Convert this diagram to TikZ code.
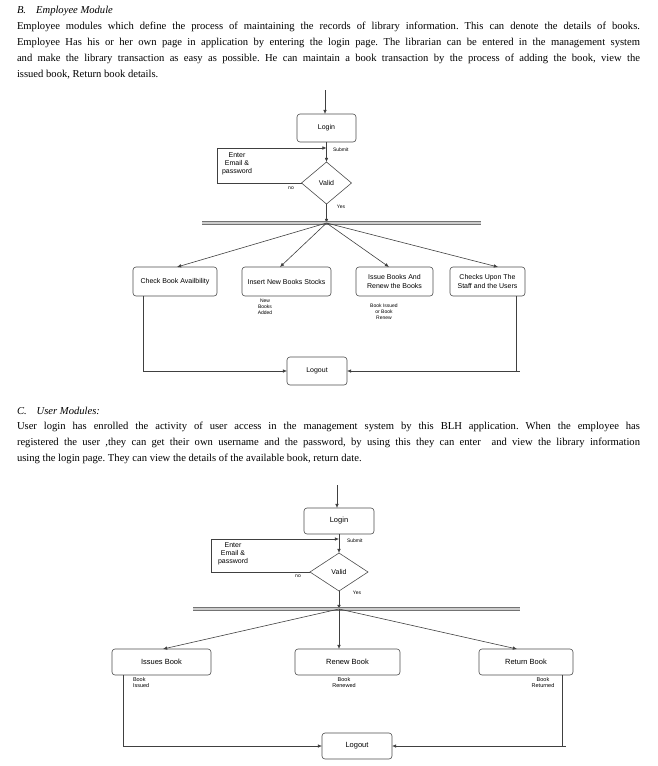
\documentclass[tikz,border=0pt]{standalone}
\usepackage{fontspec}
\setmainfont{Liberation Serif}
\newfontfamily\diafont{Liberation Sans}
\usetikzlibrary{shapes.geometric,arrows.meta}
\frenchspacing
\begin{document}
\begin{tikzpicture}[x=1pt,y=-1pt,
  every node/.style={inner sep=0pt,outer sep=0pt},
  para/.style={anchor=west,font=\fontsize{10.6}{12}\selectfont},
  head/.style={anchor=west,font=\fontsize{10.6}{12}\selectfont\itshape},
  box/.style={draw=black!70,line width=0.6pt,rounded corners=3pt,align=center,font=\diafont\fontsize{7}{8.2}\selectfont},
  boxb/.style={box,font=\diafont\fontsize{7.5}{8.6}\selectfont},
  dia/.style={diamond,draw=black!70,line width=0.6pt,font=\diafont\fontsize{7}{8}\selectfont},
  small/.style={font=\diafont\fontsize{5}{6}\selectfont,align=center},
  lbl/.style={font=\diafont\fontsize{5.5}{6.5}\selectfont,align=center},
  enter/.style={font=\diafont\fontsize{7}{8.2}\selectfont,align=center},
  ln/.style={draw=black!75,line width=0.6pt},
  arr/.style={ln,-{Latex[length=4.2pt,width=3.6pt]}},
  bar/.style={draw=black!55,line width=0.9pt,double=gray!40,double distance=1.4pt}]
\useasboundingbox (0,0) rectangle (657,766);
% ---------- text B ----------
\node[head] (hB) at (17,11) {B.\hspace{10pt}Employee Module};
\node[para] (pB1) at (17,27) {\makebox[623pt][s]{Employee modules which define the process of maintaining the records of library information. This can denote the details of books.}};
\node[para] (pB2) at (17,43) {\makebox[623pt][s]{Employee Has his or her own page in application by entering the login page. The librarian can be entered in the management system}};
\node[para] (pB3) at (17,59) {\makebox[623pt][s]{and make the library transaction as easy as possible. He can maintain a book transaction by the process of adding the book, view the}};
\node[para] (pB4) at (17,75) {issued book, Return book details.};
% ---------- diagram 1 ----------
\coordinate (t1) at (325,90);
\node[box,minimum width=59pt,minimum height=28pt] (login1) at (326.5,128) {Login};
\node[dia,minimum width=50pt,minimum height=42pt] (valid1) at (326.5,183) {Valid};
\coordinate (s1) at (326.5,148);
\coordinate (b1) at (326.5,223);
\draw[arr] (t1) -- (t1 |- login1.north);
\draw[arr] (login1.south) -- (valid1.north);
\draw[arr] (valid1.west) -- ++(-84,0) |- (s1);
\draw[arr] (valid1.south) -- (b1);
\node[enter] (en1) at (237,164) {Enter\\Email \&\\password};
\node[small,anchor=west] (sub1) at (333,150) {Submit};
\node[small] (no1) at (291,188) {no};
\node[small] (yes1) at (341,207) {Yes};
\coordinate (bl1) at (202,223);
\coordinate (br1) at (481,223);
\draw[bar] (bl1) -- (br1);
\node[box,minimum width=84pt,minimum height=29pt] (chk) at (175,281.5) {Check Book Availbility};
\node[box,minimum width=89pt,minimum height=29pt] (ins) at (286.5,281.5) {Insert New Books Stocks};
\node[box,minimum width=77pt,minimum height=29pt] (iss) at (394.5,281.5) {Issue Books And\\Renew the Books};
\node[box,minimum width=75pt,minimum height=29pt] (stf) at (487.5,281.5) {Checks Upon The\\Staff and the Users};
\draw[arr] (b1) -- ([xshift=2pt]chk.north);
\draw[arr] (b1) -- ([xshift=-6.5pt]ins.north);
\draw[arr] (b1) -- ([xshift=-5.5pt]iss.north);
\draw[arr] (b1) -- ([xshift=10.5pt]stf.north);
\node[small] (nba) at (265,307) {New\\Books\\Added};
\node[small] (bir) at (384,312) {Book Issued\\or Book\\Renew};
\node[box,minimum width=60pt,minimum height=28pt] (lo1) at (317,371) {Logout};
\draw[arr] ([xshift=10pt]chk.south west) |- (lo1.west);
\draw[arr] ([xshift=-9pt]stf.south east) |- (lo1.east);
\coordinate (ov1) at (520,371);
\draw[ln] (lo1.east -| stf.south east) ++(-9,0) -- (ov1);
% ---------- text C ----------
\node[head] (hC) at (17,411) {C.\hspace{10pt}User Modules:};
\node[para] (pC1) at (17,427) {\makebox[623pt][s]{User login has enrolled the activity of user access in the management system by this BLH application. When the employee has}};
\node[para] (pC2) at (17,443) {\makebox[623pt][s]{registered the user ,they can get their own username and the password, by using this they can enter\ \ and view the library information}};
\node[para] (pC3) at (17,459) {using the login page. They can view the details of the available book, return date.};
% ---------- diagram 2 ----------
\coordinate (t2) at (337,485);
\node[boxb,minimum width=70pt,minimum height=26pt] (login2) at (339,521) {Login};
\node[dia,minimum width=58pt,minimum height=38pt] (valid2) at (339,572) {Valid};
\coordinate (s2) at (339,539);
\coordinate (b2) at (339,609);
\draw[arr] (t2) -- (t2 |- login2.north);
\draw[arr] (login2.south) -- (valid2.north);
\draw[arr] (valid2.west) -- ++(-99,0) |- (s2);
\draw[arr] (valid2.south) -- (b2);
\node[enter] (en2) at (233,554) {Enter\\Email \&\\password};
\node[small,anchor=west] (sub2) at (347,541) {Submit};
\node[small] (no2) at (298,576) {no};
\node[small] (yes2) at (357,593) {Yes};
\coordinate (bl2) at (193,609);
\coordinate (br2) at (520,609);
\draw[bar] (bl2) -- (br2);
\node[boxb,minimum width=99pt,minimum height=26pt] (isb) at (161.5,662) {Issues Book};
\node[boxb,minimum width=105pt,minimum height=26pt] (rnb) at (347.5,662) {Renew Book};
\node[boxb,minimum width=94pt,minimum height=26pt] (rtb) at (526,662) {Return Book};
\draw[arr] (b2) -- ([xshift=1.5pt]isb.north);
\draw[arr] (b2) -- ([xshift=-8.5pt]rnb.north);
\draw[arr] (b2) -- ([xshift=-9pt]rtb.north);
\node[lbl,align=left,anchor=west] (bis) at (133,682.5) {Book\\Issued};
\node[lbl] (brn) at (344,682.5) {Book\\Renewed};
\node[lbl] (brt) at (543,682.5) {Book\\Returned};
\node[boxb,minimum width=70pt,minimum height=26pt] (lo2) at (357,746) {Logout};
\draw[arr] ([xshift=11pt]isb.south west) |- (lo2.west);
\draw[arr] ([xshift=-11pt]rtb.south east) |- (lo2.east);
\coordinate (ov2) at (566,746);
\draw[ln] (lo2.east -| rtb.south east) ++(-11,0) -- (ov2);
\end{tikzpicture}
\end{document}
